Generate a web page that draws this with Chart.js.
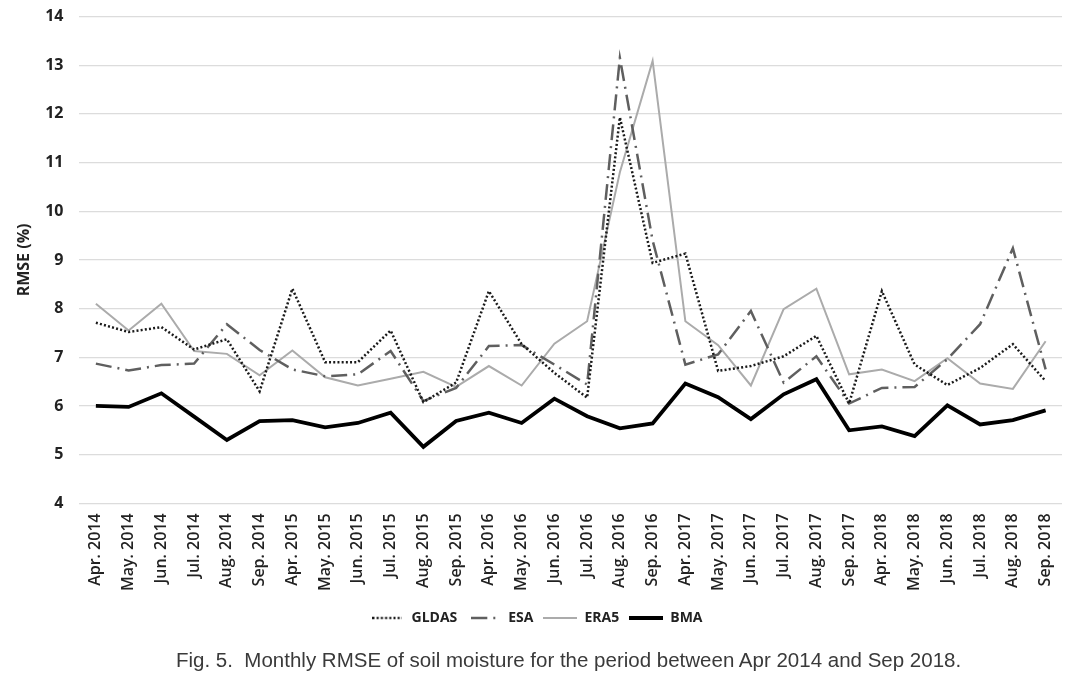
<!DOCTYPE html>
<html>
<head>
<meta charset="utf-8">
<script src="https://cdn.jsdelivr.net/npm/chart.js@4"></script>
<style>
  html, body { margin: 0; padding: 0; background: #fff; }
  #wrap { position: relative; width: 1078px; height: 676px; }
  #caption {
    position: absolute; left: 176px; top: 648px;
    font-family: 'Liberation Sans', Arial, sans-serif; font-size: 20.5px;
    line-height: 24px; color: #3a3a3a; white-space: pre;
  }
</style>
</head>
<body>
<div id="wrap">
  <canvas id="rmseChart"></canvas>
  <div id="caption"></div>
</div>
<script>
const months = ["Apr. 2014", "May. 2014", "Jun. 2014", "Jul. 2014", "Aug. 2014", "Sep. 2014",
                "Apr. 2015", "May. 2015", "Jun. 2015", "Jul. 2015", "Aug. 2015", "Sep. 2015",
                "Apr. 2016", "May. 2016", "Jun. 2016", "Jul. 2016", "Aug. 2016", "Sep. 2016",
                "Apr. 2017", "May. 2017", "Jun. 2017", "Jul. 2017", "Aug. 2017", "Sep. 2017",
                "Apr. 2018", "May. 2018", "Jun. 2018", "Jul. 2018", "Aug. 2018", "Sep. 2018"];

const gldas = [7.71, 7.52, 7.62, 7.16, 7.37, 6.30, 8.41, 6.90, 6.90, 7.55, 6.08, 6.48,
               8.36, 7.27, 6.68, 6.17, 11.93, 8.94, 9.13, 6.72, 6.82, 7.02, 7.44, 6.05,
               8.36, 6.85, 6.43, 6.78, 7.27, 6.51];
const esa   = [6.87, 6.73, 6.84, 6.87, 7.68, 7.15, 6.75, 6.61, 6.65, 7.13, 6.10, 6.37,
               7.23, 7.25, 6.85, 6.44, 13.15, 9.40, 6.85, 7.06, 7.95, 6.48, 7.02, 6.05,
               6.37, 6.39, 6.96, 7.68, 9.24, 6.75];
const era5  = [8.10, 7.55, 8.10, 7.13, 7.07, 6.63, 7.14, 6.59, 6.42, 6.56, 6.70, 6.39,
               6.82, 6.42, 7.28, 7.74, 10.80, 13.09, 7.74, 7.25, 6.42, 7.99, 8.41, 6.65,
               6.75, 6.51, 6.98, 6.46, 6.35, 7.33];
const bma   = [6.00, 5.98, 6.26, 5.78, 5.30, 5.69, 5.71, 5.56, 5.65, 5.86, 5.16, 5.69,
               5.86, 5.65, 6.15, 5.79, 5.54, 5.64, 6.46, 6.18, 5.73, 6.24, 6.55, 5.50,
               5.58, 5.38, 6.01, 5.62, 5.71, 5.91];

const yMin = 4, yMax = 14;
const caption = "Fig. 5.  Monthly RMSE of soil moisture for the period between Apr 2014 and Sep 2018.";
document.getElementById("caption").textContent = caption;

const boldFont = "'Open Sans', 'DejaVu Sans', sans-serif";

// small line swatches for the legend (point style of a line dataset loses its dash)
function swatch(color, width, dash, len) {
  const c = document.createElement("canvas");
  c.width = len;
  c.height = 8;
  const g = c.getContext("2d");
  g.strokeStyle = color;
  g.lineWidth = width;
  g.setLineDash(dash);
  g.beginPath();
  g.moveTo(0, 4);
  g.lineTo(len, 4);
  g.stroke();
  return c;
}

const styles = {
  GLDAS: { color: "#1a1a1a", width: 2.5, dash: [2, 2.2] },
  ESA:   { color: "#5f5f5f", width: 2.5, dash: [16, 6, 2, 6] },
  ERA5:  { color: "#ababab", width: 2, dash: [] },
  BMA:   { color: "#000000", width: 3.8, dash: [] }
};

function makeSet(name, values, swatchLen) {
  const s = styles[name];
  return {
    label: name,
    data: values,
    borderColor: s.color,
    borderWidth: s.width,
    borderDash: s.dash,
    pointRadius: 0,
    pointHoverRadius: 0,
    pointStyle: swatch(s.color, s.width, s.dash, swatchLen),
    fill: false,
    tension: 0
  };
}

new Chart(document.getElementById("rmseChart"), {
  type: "line",
  data: {
    labels: months,
    datasets: [
      makeSet("GLDAS", gldas, 30),
      makeSet("ESA", esa, 26),
      makeSet("ERA5", era5, 34),
      makeSet("BMA", bma, 34)
    ]
  },
  options: {
    responsive: true,
    maintainAspectRatio: false,
    animation: false,
    layout: { padding: { top: 2, right: 16, left: 11, bottom: 41 } },
    plugins: {
      tooltip: { enabled: false },
      legend: {
        position: "bottom",
        labels: {
          usePointStyle: true,
          pointStyleWidth: 34,
          boxHeight: 10,
          padding: 10,
          color: "#222",
          font: { family: boldFont, size: 14, weight: "bold" }
        }
      },
      title: { display: false }
    },
    scales: {
      x: {
        offset: true,
        grid: { display: false, drawTicks: false },
        border: { display: false },
        ticks: {
          autoSkip: false,
          minRotation: 90,
          maxRotation: 90,
          padding: 10,
          color: "#222",
          font: { family: boldFont, size: 16, weight: "600" }
        }
      },
      y: {
        min: yMin,
        max: yMax,
        grid: { color: "#dcdcdc", lineWidth: 1.2, drawTicks: true, tickLength: 9, tickColor: "rgba(0,0,0,0)" },
        border: { display: false },
        ticks: {
          stepSize: 1,
          padding: 7,
          color: "#222",
          font: { family: boldFont, size: 16, weight: "bold" }
        },
        title: {
          display: true,
          text: "RMSE (%)",
          color: "#222",
          padding: { bottom: 4 },
          font: { family: boldFont, size: 16, weight: "bold" }
        }
      }
    }
  },
  plugins: [{
    id: "customCanvasBackgroundColor",
    beforeDraw(chart) {
      const {ctx} = chart;
      ctx.save();
      ctx.globalCompositeOperation = "destination-over";
      ctx.fillStyle = "white";
      ctx.fillRect(0, 0, chart.width, chart.height);
      ctx.restore();
    }
  }]
});
</script>
</body>
</html>
